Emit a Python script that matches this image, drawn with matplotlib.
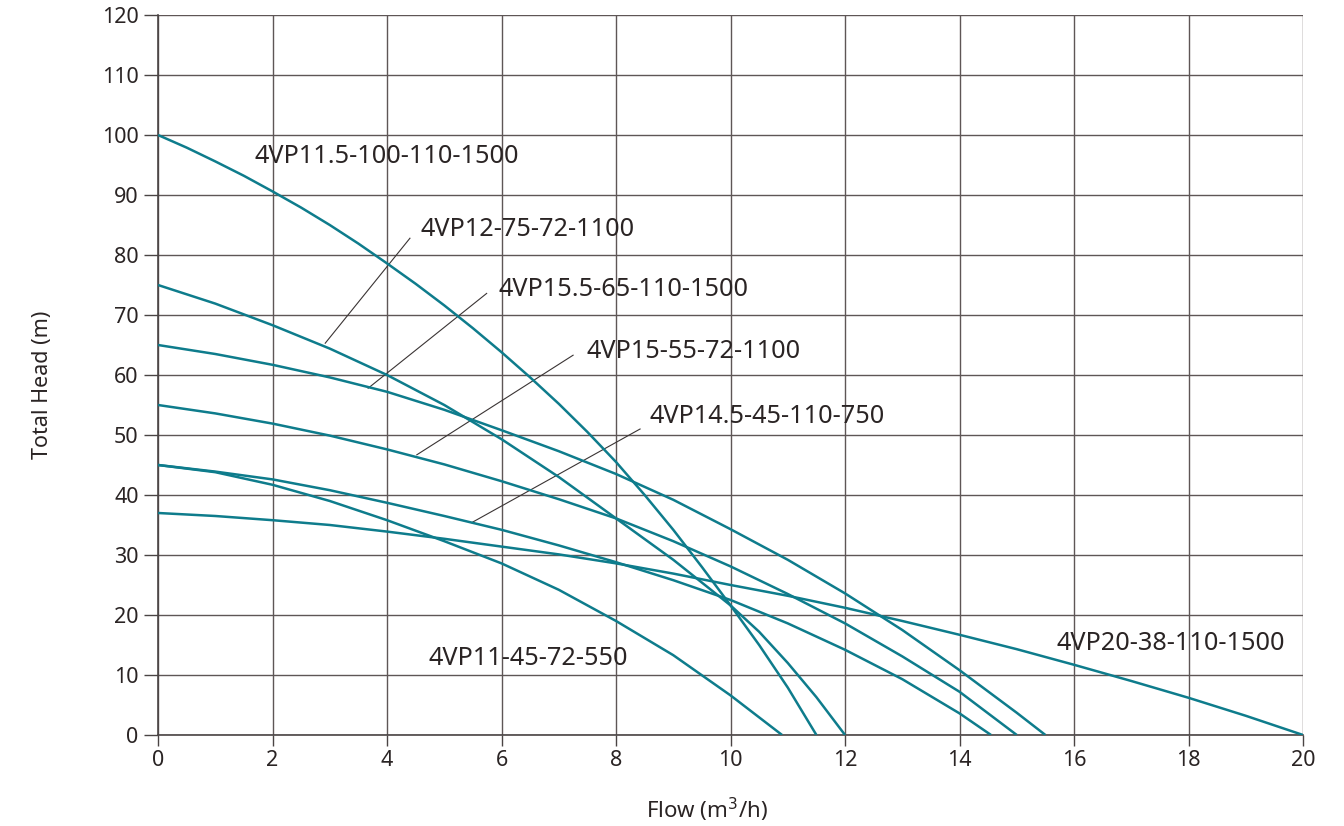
import numpy as np
import matplotlib
matplotlib.use("Agg")
import matplotlib.pyplot as plt

plt.rcParams['font.family'] = ['Noto Sans', 'DejaVu Sans']

# pump curves, flow (m3/h) vs total head (m)
q_a = [0, 0.5, 1, 1.5, 2, 2.5, 3, 3.5, 4, 4.5, 5, 5.5, 6, 6.5, 7, 7.5, 8, 8.5, 9, 9.5, 10, 10.5, 11, 11.5]
h_a = [100, 97.9, 95.6, 93.2, 90.6, 87.9, 85, 81.9, 78.6, 75.2, 71.6, 67.8, 63.8, 59.6, 55.2, 50.5,
       45.5, 40.0, 34.2, 28.0, 21.6, 15.0, 7.9, 0]

q_b = [0, 1, 2, 3, 4, 5, 6, 7, 8, 9, 10, 10.5, 11, 11.5, 12]
h_b = [75, 71.9, 68.3, 64.4, 60, 55, 49.3, 43, 36.1, 29.2, 21.6, 17.2, 12.0, 6.3, 0]

q_c = [0, 1, 2, 3, 4, 5, 6, 7, 8, 9, 10, 11, 12, 13, 14, 15, 15.5]
h_c = [65, 63.5, 61.7, 59.6, 57.2, 54.2, 50.8, 47.3, 43.5, 39.2, 34.3, 29.2, 23.6, 17.5, 10.8, 3.7, 0]

q_e = [0, 1, 2, 3, 4, 5, 6, 7, 8, 9, 10, 11, 12, 13, 14, 15]
h_e = [55, 53.6, 51.9, 49.9, 47.6, 45.1, 42.3, 39.3, 36.1, 32.3, 28.1, 23.5, 18.6, 13.1, 7.2, 0]

q_f = [0, 1, 2, 3, 4, 5, 6, 7, 8, 9, 10, 11, 12, 13, 14, 14.55]
h_f = [45, 43.9, 42.6, 40.8, 38.7, 36.5, 34.2, 31.6, 28.8, 25.8, 22.5, 18.6, 14.2, 9.3, 3.6, 0]

q_g = [0, 1, 2, 3, 4, 5, 6, 7, 8, 9, 10, 10.9]
h_g = [45, 43.8, 41.7, 39.0, 35.8, 32.3, 28.6, 24.2, 19.0, 13.3, 6.6, 0]

q_d = [0, 1, 2, 3, 4, 5, 6, 7, 8, 9, 10, 11, 12, 13, 14, 15, 16, 17, 18, 19, 20]
h_d = [37, 36.5, 35.8, 35.0, 33.9, 32.7, 31.4, 30.1, 28.6, 26.9, 25.0, 23.2, 21.2, 19.0, 16.7, 14.3,
       11.7, 9.0, 6.2, 3.2, 0]

# label text, text position, leader line (from, to) or None
labels = [
    ("4VP11.5-100-110-1500", (1.68, 96.5), None),
    ("4VP12-75-72-1100", (4.58, 84.2), ((4.40, 82.8), (2.92, 65.3))),
    ("4VP15.5-65-110-1500", (5.94, 74.2), ((5.74, 73.6), (3.67, 57.8))),
    ("4VP15-55-72-1100", (7.49, 63.9), ((7.25, 63.3), (4.52, 46.7))),
    ("4VP14.5-45-110-750", (8.58, 53.1), ((8.42, 51.0), (5.48, 35.4))),
    ("4VP11-45-72-550", (4.72, 12.8), None),
    ("4VP20-38-110-1500", (15.69, 15.3), None),
]

teal = '#0e7c8c'
grid_c = '#5e5656'

fig = plt.figure(figsize=(13.44, 8.26), dpi=100)
ax = fig.add_axes([0.1176, 0.1102, 0.8519, 0.8716])

for q, h in [(q_a, h_a), (q_b, h_b), (q_c, h_c), (q_e, h_e),
             (q_f, h_f), (q_g, h_g), (q_d, h_d)]:
    ax.plot(q, h, color=teal, lw=1.8, solid_capstyle='butt',
            solid_joinstyle='round', zorder=3)

for txt, pos, lead in labels:
    ax.text(pos[0], pos[1], txt, fontsize=18.2, color='#2a2424',
            va='center', ha='left', zorder=4)
    if lead is not None:
        ax.plot([lead[0][0], lead[1][0]], [lead[0][1], lead[1][1]],
                color='#3a3434', lw=0.8, zorder=2)

ax.set_xlim(0, 20)
ax.set_ylim(0, 120)
ax.set_xticks(np.arange(0, 21, 2))
ax.set_yticks(np.arange(0, 121, 10))
ax.grid(True, color=grid_c, lw=1.0, zorder=0)
ax.set_axisbelow(True)
for s in ['top', 'right']:
    ax.spines[s].set_visible(False)
for s in ['left', 'bottom']:
    ax.spines[s].set_color('#4a4444')
    ax.spines[s].set_linewidth(1.2)
ax.tick_params(axis='y', direction='out', length=10, width=1.0,
               color='#4a4444', labelcolor='#2a2424', labelsize=15.5, pad=4)
ax.tick_params(axis='x', direction='out', length=8, width=1.0,
               color='#4a4444', labelcolor='#2a2424', labelsize=15.5, pad=3)

ax.set_xlabel('Flow (m$^3$/h)', fontsize=16, color='#2a2424')
ax.set_ylabel('Total Head (m)', fontsize=15.5, color='#2a2424')
ax.xaxis.set_label_coords(0.479, -0.085)
ax.yaxis.set_label_coords(-0.092, 0.486)

plt.savefig('out.png', dpi=100)
